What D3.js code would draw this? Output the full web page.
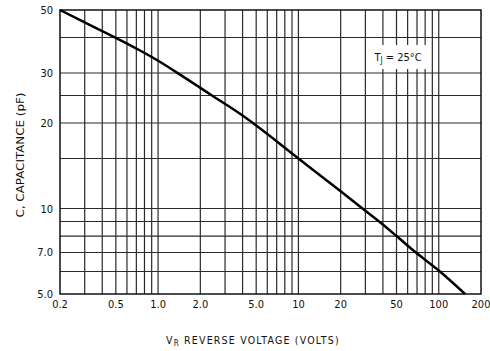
<!DOCTYPE html>
<html>
<head>
<meta charset="utf-8">
<script src="https://cdn.jsdelivr.net/npm/d3@7"></script>
<style>
  body { margin: 0; background: #fff; }
  svg text { font-family: "Liberation Sans Narrow", "DejaVu Sans Condensed", "Liberation Sans", sans-serif; fill: #111; }
</style>
</head>
<body>
<svg id="chart" width="490" height="351"></svg>
<script>
// curve (reverse voltage in volts, capacitance in pF)
const voltage = [0.2, 0.3, 0.5, 0.744, 0.954, 1.363, 2.0, 2.42, 3.86, 5, 10, 20, 28.6, 37.6, 50, 68.7, 100, 154]
const capacitance = [50, 45.2, 39.9, 36.0, 33.6, 30.1, 26.6, 25, 21.5, 19.6, 15, 11.5, 10, 9, 8, 7, 6.05, 5]

// grid and ticks
const xGrid = [0.3, 0.4, 0.5, 0.6, 0.7, 0.8, 0.9, 1, 2, 3, 4, 5, 6, 7, 8, 9, 10, 20, 30, 40, 50, 60, 70, 80, 90, 100]
const yGrid = [6, 7, 8, 9, 10, 15, 20, 25, 30, 40]
const xTicks = [0.2, 0.5, 1, 2, 5, 10, 20, 50, 100, 200]
const xTickLabels = ["0.2", "0.5", "1.0", "2.0", "5.0", "10", "20", "50", "100", "200"]
const yTicks = [5, 7, 10, 20, 30, 50]
const yTickLabels = ["5.0", "7.0", "10", "20", "30", "50"]

// plot box in pixels
const plotL = 60, plotR = 481, plotT = 10, plotB = 294

const x = d3.scaleLog().domain([0.2, 200]).range([plotL, plotR])
const y = d3.scaleLog().domain([5, 50]).range([plotB, plotT])

const svg = d3.select("#chart")

// gridlines
svg.append("g")
    .selectAll("line")
    .data(xGrid)
    .enter()
    .append("line")
        .attr("x1", d => x(d)).attr("x2", d => x(d))
        .attr("y1", plotT).attr("y2", plotB)
        .attr("stroke", "#2a2a2a")
        .attr("stroke-width", 1.2)

svg.append("g")
    .selectAll("line")
    .data(yGrid)
    .enter()
    .append("line")
        .attr("x1", plotL).attr("x2", plotR)
        .attr("y1", d => y(d)).attr("y2", d => y(d))
        .attr("stroke", "#2a2a2a")
        .attr("stroke-width", 1.2)

// frame
svg.append("rect")
    .attr("x", plotL).attr("y", plotT)
    .attr("width", plotR - plotL).attr("height", plotB - plotT)
    .attr("fill", "none")
    .attr("stroke", "#111")
    .attr("stroke-width", 1.5)

// tick labels
svg.append("g")
    .selectAll("text")
    .data(xTicks)
    .enter()
    .append("text")
        .attr("x", d => x(d))
        .attr("y", 308)
        .attr("text-anchor", "middle")
        .attr("font-size", 11)
        .text((d, i) => xTickLabels[i])

svg.append("g")
    .selectAll("text")
    .data(yTicks)
    .enter()
    .append("text")
        .attr("x", 53)
        .attr("y", d => y(d) + 4)
        .attr("text-anchor", "end")
        .attr("font-size", 11)
        .text((d, i) => yTickLabels[i])

// capacitance curve
const line = d3.line()
    .x(d => x(d[0]))
    .y(d => y(d[1]))
    .curve(d3.curveMonotoneX)

svg.append("path")
    .datum(voltage.map((v, i) => [v, capacitance[i]]))
    .attr("d", line)
    .attr("fill", "none")
    .attr("stroke", "#000")
    .attr("stroke-width", 2.5)

// T_J label on white box
svg.append("rect")
    .attr("x", 368).attr("y", 45)
    .attr("width", 62).attr("height", 24)
    .attr("fill", "#fff")

const tj = svg.append("text")
    .attr("x", 398).attr("y", 61)
    .attr("text-anchor", "middle")
    .attr("font-size", 11)
tj.append("tspan").text("T")
tj.append("tspan").attr("font-size", 8).attr("dy", 2).text("J")
tj.append("tspan").attr("dy", -2).text(" = 25°C")

// axis titles
svg.append("text")
    .attr("transform", "translate(24,155) rotate(-90)")
    .attr("text-anchor", "middle")
    .attr("font-size", 11)
    .attr("textLength", 125)
    .attr("lengthAdjust", "spacingAndGlyphs")
    .text("C, CAPACITANCE (pF)")

const xt = svg.append("text")
    .attr("x", 166).attr("y", 344)
    .attr("font-size", 10.5)
    .attr("letter-spacing", 1.2)
xt.append("tspan").text("V")
xt.append("tspan").attr("font-size", 8).attr("dy", 2).text("R")
xt.append("tspan").attr("dy", -2).text("  REVERSE VOLTAGE (VOLTS)")
</script>
</body>
</html>
